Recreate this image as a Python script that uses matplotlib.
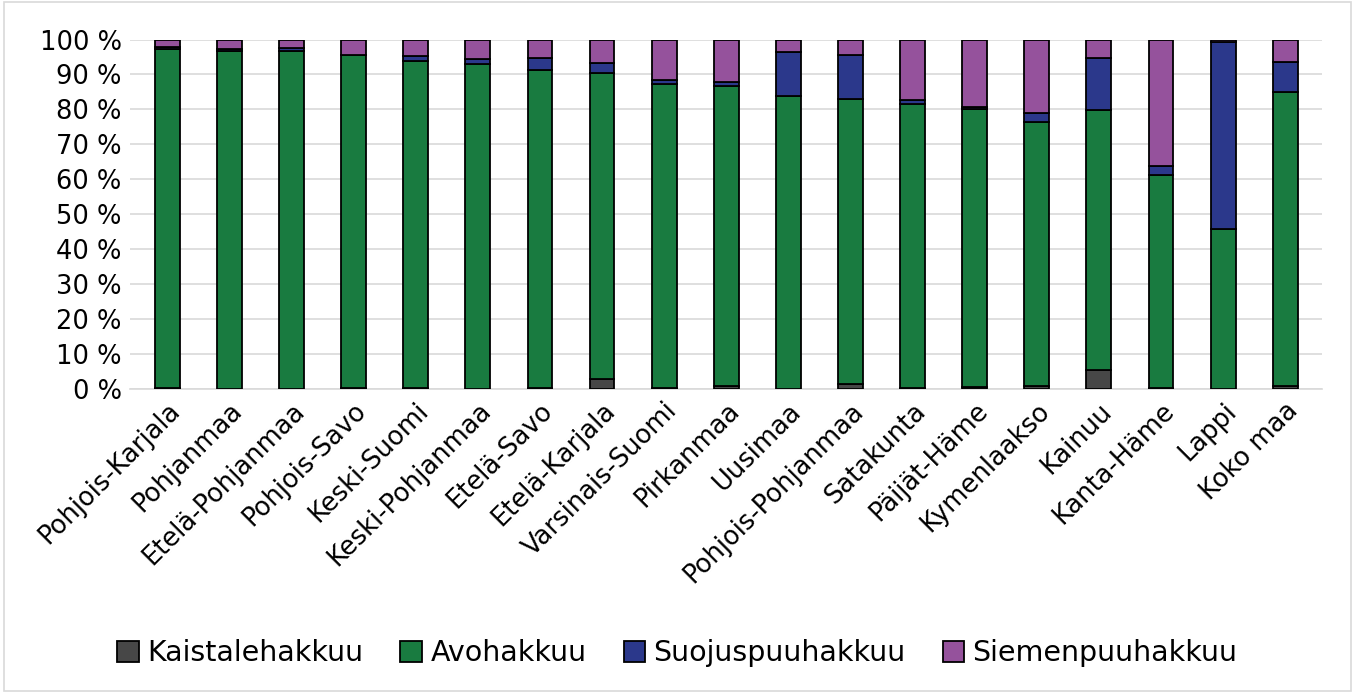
import numpy as np
import matplotlib.pyplot as plt

regions = ['Pohjois-Karjala', 'Pohjanmaa', 'Etelä-Pohjanmaa', 'Pohjois-Savo',
           'Keski-Suomi', 'Keski-Pohjanmaa', 'Etelä-Savo', 'Etelä-Karjala',
           'Varsinais-Suomi', 'Pirkanmaa', 'Uusimaa', 'Pohjois-Pohjanmaa',
           'Satakunta', 'Päijät-Häme', 'Kymenlaakso', 'Kainuu', 'Kanta-Häme',
           'Lappi', 'Koko maa']

# shares in percent
kaistale = [0.3, 0.2, 0.2, 0.5, 0.3, 0.2, 0.5, 3.0, 0.5, 1.0, 0.2, 1.5, 0.5,
            0.8, 1.0, 5.5, 0.3, 0.1, 1.0]
avo = [97.1, 96.4, 96.4, 95.1, 93.5, 92.8, 90.8, 87.3, 86.7, 85.8, 83.6, 81.6,
       81.0, 79.3, 75.3, 74.3, 61.0, 45.7, 83.9]
suojus = [0.5, 0.7, 1.0, 0.1, 1.5, 1.4, 3.3, 3.1, 1.1, 1.0, 12.7, 12.4, 1.3,
          0.7, 2.7, 15.0, 2.6, 53.4, 8.6]
siemen = [100 - a - b - c for a, b, c in zip(kaistale, avo, suojus)]

series = [('Kaistalehakkuu', kaistale, '#474747'),
          ('Avohakkuu', avo, '#197b40'),
          ('Suojuspuuhakkuu', suojus, '#2b388b'),
          ('Siemenpuuhakkuu', siemen, '#95529c')]

fig = plt.figure(figsize=(13.55, 6.93), dpi=100)
ax = fig.add_axes([0.096, 0.438, 0.88, 0.505])

x = np.arange(len(regions))
bottom = np.zeros(len(regions))
for name, vals, color in series:
    vals = np.array(vals)
    ax.bar(x, vals, 0.4, bottom=bottom, color=color, edgecolor='black',
           linewidth=1.3, label=name, zorder=3)
    bottom += vals

ax.set_ylim(0, 100)
ax.set_xlim(-0.6, len(regions) - 0.4)
ax.set_yticks(range(0, 101, 10))
ax.set_yticklabels([f'{v} %' for v in range(0, 101, 10)], fontsize=18.5)
ax.set_xticks(x)
ax.set_xticklabels(regions, rotation=45, ha='right', rotation_mode='anchor',
                   fontsize=18.5)
ax.tick_params(length=0, pad=6)
ax.grid(axis='y', color='#d9d9d9', linewidth=1.2, zorder=0)
for s in ['top', 'right', 'left']:
    ax.spines[s].set_visible(False)
ax.spines['bottom'].set_color('#d9d9d9')
ax.spines['bottom'].set_linewidth(1.2)

fig.legend(loc='lower center', ncol=4, frameon=False, fontsize=20.5,
           bbox_to_anchor=(0.5, 0.0), handlelength=0.75, handleheight=0.75,
           columnspacing=1.3, handletextpad=0.3)

# light frame around whole figure
fig.patches.append(plt.Rectangle((0.003, 0.003), 0.994, 0.994,
                                 transform=fig.transFigure, fill=False,
                                 edgecolor='#d9d9d9', linewidth=1.2))

plt.savefig('out.png', dpi=100)
